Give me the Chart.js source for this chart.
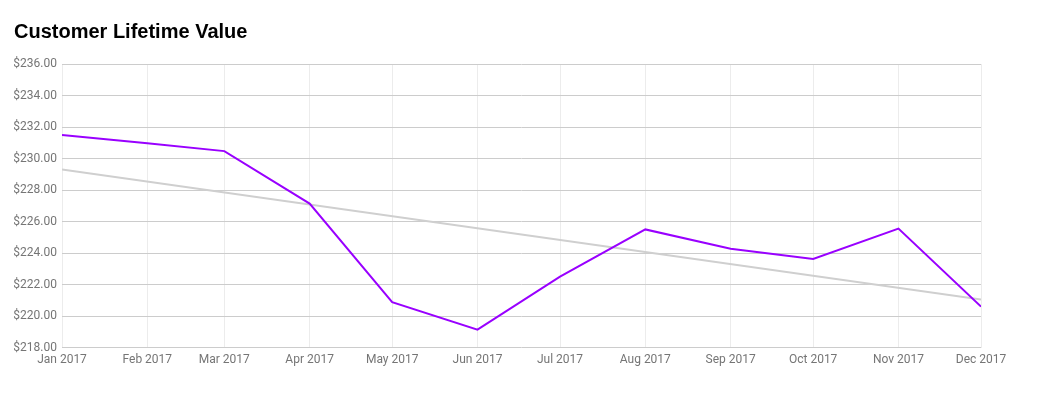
<!DOCTYPE html>
<html lang="en">
<head>
  <meta charset="UTF-8" />
  <title>Customer Lifetime Value</title>
  <script src="https://cdn.jsdelivr.net/npm/chart.js"></script>
  <style>
    html, body { margin: 0; padding: 0; background: #fff; }
    #wrap { width: 1037px; height: 396px; position: relative; }
  </style>
</head>
<body>
  <div id="wrap"><canvas id="clvChart"></canvas></div>

  <script>
    // months of 2017, positioned by day offset from Jan 1
    const monthLabels = ['Jan 2017', 'Feb 2017', 'Mar 2017', 'Apr 2017', 'May 2017', 'Jun 2017',
                         'Jul 2017', 'Aug 2017', 'Sep 2017', 'Oct 2017', 'Nov 2017', 'Dec 2017'];
    const monthDays = [0, 31, 59, 90, 120, 151, 181, 212, 243, 273, 304, 334];
    const clvValues = [231.5, 230.97, 230.47, 227.14, 220.88, 219.14, 222.5, 225.5, 224.27, 223.62, 225.55, 220.6];
    const trendValues = [229.3, 221.05]; // start / end of trend line
    const yTicks = [218, 220, 222, 224, 226, 228, 230, 232, 234, 236];

    const tickFont = { family: 'Roboto', size: 12 };

    new Chart(document.getElementById('clvChart'), {
      type: 'line',
      data: {
        datasets: [
          {
            label: 'Customer Lifetime Value',
            data: monthDays.map((d, i) => ({ x: d, y: clvValues[i] })),
            borderColor: '#9900ff',
            borderWidth: 2,
            pointRadius: 0,
            tension: 0,
            fill: false
          },
          {
            label: 'Trend',
            data: [
              { x: monthDays[0], y: trendValues[0] },
              { x: monthDays[monthDays.length - 1], y: trendValues[1] }
            ],
            borderColor: '#cfcfcf',
            borderWidth: 2,
            pointRadius: 0,
            fill: false
          }
        ]
      },
      options: {
        responsive: true,
        maintainAspectRatio: false,
        animation: false,
        layout: { padding: { left: 14, right: 56, top: 6, bottom: 24 } },
        plugins: {
          legend: { display: false },
          tooltip: { enabled: false },
          title: {
            display: true,
            text: 'Customer Lifetime Value',
            align: 'start',
            color: '#000',
            font: { family: 'Liberation Sans', size: 20, weight: 'bold' },
            padding: { top: 14, bottom: 20 }
          }
        },
        scales: {
          x: {
            type: 'linear',
            min: monthDays[0],
            max: monthDays[monthDays.length - 1],
            afterBuildTicks: axis => { axis.ticks = monthDays.map(v => ({ value: v })); },
            ticks: {
              color: '#757575',
              font: tickFont,
              padding: 5,
              maxRotation: 0,
              autoSkip: false,
              callback: v => monthLabels[monthDays.indexOf(v)]
            },
            grid: { color: '#ececec', drawTicks: false },
            border: { display: false }
          },
          y: {
            min: yTicks[0],
            max: yTicks[yTicks.length - 1],
            afterBuildTicks: axis => { axis.ticks = yTicks.map(v => ({ value: v })); },
            afterFit: axis => { axis.width = 48; },
            ticks: {
              color: '#757575',
              font: tickFont,
              padding: 5,
              callback: v => '$' + v.toFixed(2)
            },
            grid: { color: '#cccccc', drawTicks: false },
            border: { display: false }
          }
        }
      }
    });
  </script>
</body>
</html>
